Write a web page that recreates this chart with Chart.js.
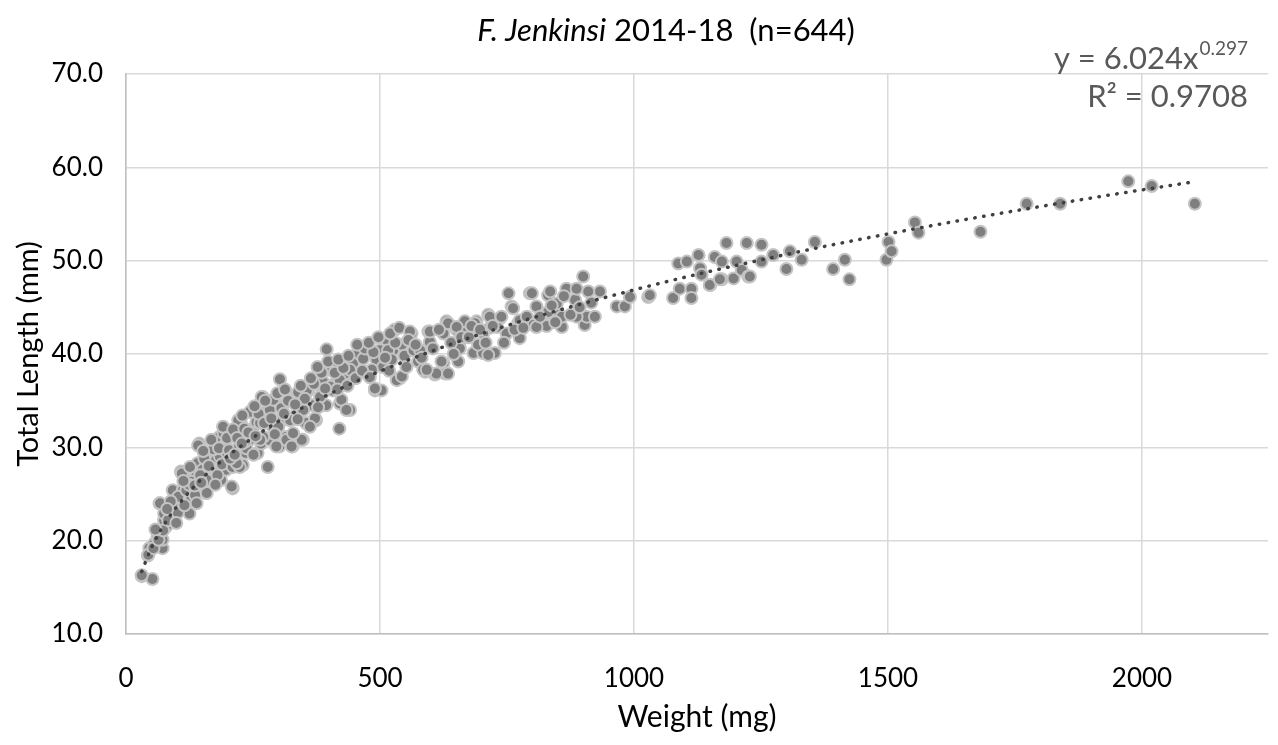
<!DOCTYPE html>
<html>
<head>
<meta charset="utf-8">
<script src="https://cdn.jsdelivr.net/npm/chart.js@4.4.1/dist/chart.umd.min.js"></script>
<style>
  html, body { margin: 0; padding: 0; background: #fff; }
  canvas { display: block; }
</style>
</head>
<body>
<canvas id="fishChart" width="1278" height="745"></canvas>
<script>
// weight (mg), total length (mm), split by weight range
const smallFish = [
  [31,16.2],[52,15.9],[43,18.4],[46,19.2],[56,19.7],[62,20.4],[72,19.2],[72,20.1],[69,21.0],[79,21.5],
  [85,22.2],[75,22.2],[66,24.0],[75,22.9],[92,22.9],[95,23.6],[105,24.3],[98,25.1],[92,25.4],[112,25.4],
  [108,27.4],[121,26.5],[118,24.7],[128,24.4],[125,22.9],[131,25.8],[138,26.9],[141,28.3],[144,30.4],[151,27.6],
  [157,25.1],[161,26.5],[167,29.4],[171,27.6],[177,28.6],[184,31.1],[187,26.5],[194,29.0],[197,27.6],
  [31,16.3],[44,18.5],[54,19.2],[64,20.1],[73,21.1],[67,24.0],[83,22.2],[93,23.6],[103,24.7],[110,27.2],
  [119,25.4],[129,26.3],[142,30.2],[136,24.9],[146,27.0],[159,25.1],[165,27.9],[185,29.0],[192,31.5],[198,29.5],
  [88,24.2],[102,23.0],[115,23.8],[124,26.0],[135,25.9],[148,26.2],[154,28.8],[163,28.0],[172,29.8],[180,27.0],
  [189,28.2],[196,30.3],[58,21.2],[81,23.4],[99,21.9],[113,26.4],[126,27.9],[139,24.0],[152,29.6],[168,30.8],
  [176,26.0],[183,29.9],[191,32.2],[199,31.0]
];
const midFish = [
  [203,29.7],[210,25.6],[210,27.9],[216,31.5],[223,30.1],[226,32.6],[230,28.1],[236,29.4],[243,30.8],[246,33.8],
  [249,32.0],[259,29.4],[262,32.9],[266,30.4],[269,35.4],[276,33.8],[279,27.9],[282,30.8],[289,32.2],[295,34.7],
  [302,30.1],[305,32.9],[308,34.0],[315,31.1],[328,30.1],[331,33.3],[335,35.4],[348,30.8],[354,32.6],[358,36.1],
  [367,34.5],[374,32.9],[387,35.8],[394,34.5],[400,36.5],[407,36.1],[420,32.0],[423,34.7],[303,37.3],[395,40.5],
  [208,25.8],[267,35.4],[244,33.8],[221,32.9],[211,31.9],[224,27.9],[237,29.9],[251,29.2],[257,32.7],[270,31.1],
  [283,34.0],[290,35.1],[300,32.2],[306,34.2],[316,30.8],[323,32.9],[339,35.9],[349,34.0],[359,36.1],[372,33.1],
  [382,35.4],[388,37.0],[401,38.3],[408,36.7],[421,34.7],[431,37.9],[441,34.0],[447,39.0],[461,40.1],[474,37.9],
  [490,36.1],[503,36.1],[493,39.4],[506,38.6],[513,41.5],[526,40.4],[539,37.4],[543,41.0],[218,28.3],[234,30.6],
  [264,30.8],[264,32.6],[296,30.1],[326,30.1],[346,30.8],[329,31.5],[362,32.2],[356,36.1],[402,36.5],[405,38.5],
  [424,35.1],[434,34.0],[421,37.2],[441,38.3],[457,40.1],[467,39.5],[484,38.3],[490,36.3],[500,40.4],[529,42.6],
  [516,40.4],[523,39.4],[533,37.2],[543,37.6],[205,28.8],[214,29.2],[219,31.0],[228,30.4],[233,32.0],[241,31.6],
  [255,31.2],[261,33.6],[272,32.6],[286,33.1],[293,31.4],[311,33.6],[319,35.0],[338,33.0],[344,36.6],[352,35.2],
  [370,36.8],[378,34.3],[385,38.0],[392,36.3],[411,38.0],[416,36.2],[428,38.5],[436,36.6],[452,37.4],[465,38.2],
  [470,40.6],[480,37.5],[487,40.2],[510,39.6],[518,38.2],[530,41.2],[548,39.8],[229,33.4],[253,34.4],[274,35.0],
  [298,35.8],[313,36.2],[333,34.6],[364,37.4],[377,38.6],[398,39.2],[418,39.4],[438,39.8],[455,41.0],[478,41.2],
  [497,41.8],[520,42.2],[538,42.8]
];
const largeFish = [
  [552,38.6],[562,42.2],[566,40.4],[575,39.2],[589,38.1],[595,42.4],[598,41.3],[608,37.8],[625,42.2],[625,39.0],
  [628,37.9],[631,43.5],[651,42.6],[654,39.2],[664,42.4],[667,43.5],[684,40.1],[690,43.5],[703,40.1],[713,44.2],
  [726,40.1],[716,42.8],[736,43.8],[749,42.2],[759,45.1],[772,43.3],[775,41.7],[789,43.6],[808,45.1],[828,44.4],
  [828,43.0],[848,44.7],[559,42.4],[579,40.4],[585,38.3],[611,37.9],[634,37.9],[657,41.3],[592,38.3],[621,39.2],
  [598,42.4],[634,43.3],[651,42.9],[657,40.6],[687,43.3],[693,41.0],[703,42.2],[713,39.9],[716,44.0],[730,42.9],
  [739,44.0],[753,46.5],[762,44.9],[775,43.6],[789,44.0],[795,46.5],[802,43.1],[831,46.3],[831,44.5],[848,45.4],
  [858,42.9],[867,47.0],[884,45.8],[887,47.0],[903,43.1],[907,44.0],[923,44.0],[933,46.7],[966,45.1],[982,45.1],
  [992,46.1],[799,46.5],[835,46.7],[808,42.9],[858,44.0],[900,48.3],[887,44.0],[910,46.7],[556,41.5],[570,41.0],
  [582,39.6],[604,40.6],[616,42.6],[640,41.2],[645,40.0],[660,41.8],[675,41.8],[680,43.0],[697,42.6],[708,41.2],
  [722,43.0],[744,41.2],[765,42.6],[782,42.8],[815,44.0],[838,45.2],[845,43.4],[862,46.2],[875,44.2],[893,45.0],
  [916,45.5]
];
const heavyFish = [
  [1028,46.1],[1077,46.0],[1087,49.7],[1104,49.9],[1090,47.0],[1113,47.0],[1113,46.0],[1127,50.6],[1130,49.2],[1133,48.5],
  [1150,47.4],[1159,50.4],[1173,49.9],[1173,48.0],[1182,51.9],[1196,48.1],[1202,49.9],[1212,49.0],[1222,51.9],[1225,48.3],
  [1251,51.7],[1251,49.9],[1274,50.6],[1300,49.1],[1307,51.0],[1330,50.1],[1356,52.0],[1392,49.1],[1415,50.1],[1424,48.0],
  [1497,50.1],[1501,52.0],[1507,51.0],[1553,54.1],[1560,53.0],[1682,53.1],[1773,56.1],[1839,56.1],[1973,58.5],[2019,58.0],
  [2104,56.1],[1031,46.3],[1149,47.4],[1169,48.0],[1228,48.3]
];

// power trendline y = 6.024x^0.297
const trendWeight = [31, 50, 75, 100, 150, 200, 300, 400, 500, 700, 1000, 1300, 1600, 1900, 2100];
const trendLength = [16.7, 19.25, 21.72, 23.65, 26.68, 29.06, 32.78, 35.70, 38.15, 42.17, 46.87, 50.67, 53.89, 56.71, 58.43];

const xTicks = [0, 500, 1000, 1500, 2000];
const yTicks = [10, 20, 30, 40, 50, 60, 70];

const FONT = 'Lato, "Open Sans", sans-serif';

const allFish = smallFish.concat(midFish, largeFish, heavyFish).map(p => ({x: p[0], y: p[1]}));
const trendPts = trendWeight.map((w, i) => ({x: w, y: trendLength[i]}));

// title with italic species name + equation box, drawn on the canvas
const textPlugin = {
  id: 'textPlugin',
  afterDraw(chart) {
    const ctx = chart.ctx;
    ctx.save();
    ctx.textBaseline = 'middle';
    ctx.fillStyle = '#000';
    let a = 'F. Jenkinsi';
    let b = ' 2014-18  (n=644)';
    ctx.font = 'italic 31px ' + FONT;
    let wa = ctx.measureText(a).width;
    ctx.font = '31px ' + FONT;
    let wb = ctx.measureText(b).width;
    let x0 = 666 - (wa + wb) / 2;
    ctx.textAlign = 'left';
    ctx.font = 'italic 31px ' + FONT;
    ctx.fillText(a, x0, 31);
    ctx.font = '31px ' + FONT;
    ctx.fillText(b, x0 + wa, 31);

    // equation, right aligned
    let right = 1248;
    ctx.fillStyle = '#595959';
    ctx.font = '19px ' + FONT;
    let sup = '0.297';
    let ws = ctx.measureText(sup).width;
    ctx.textAlign = 'right';
    ctx.fillText(sup, right, 49);
    ctx.font = '31px ' + FONT;
    ctx.fillText('y = 6.024x', right - ws - 1, 59);
    ctx.fillText('R\u00B2 = 0.9708', right, 97);
    ctx.restore();
  }
};

new Chart(document.getElementById('fishChart'), {
  type: 'scatter',
  data: {
    datasets: [{
      type: 'line',
      label: 'Power trend',
      data: trendPts,
      order: 0,
      borderColor: '#404040',
      borderWidth: 3.5,
      borderDash: [0.5, 8.5],
      borderCapStyle: 'round',
      pointRadius: 0,
      tension: 0.4,
      cubicInterpolationMode: 'monotone',
      fill: false
    }, {
      label: 'Fish',
      data: allFish,
      order: 1,
      backgroundColor: '#7f7f7f',
      borderColor: '#c4c4c4',
      borderWidth: 2,
      pointRadius: 6,
      pointHoverRadius: 6
    }]
  },
  plugins: [textPlugin],
  options: {
    responsive: false,
    animation: false,
    devicePixelRatio: 1,
    layout: { padding: { top: 74, right: 10, bottom: 0, left: 0 } },
    plugins: {
      legend: { display: false },
      title: { display: false },
      tooltip: { enabled: false }
    },
    scales: {
      x: {
        type: 'linear',
        min: 0,
        max: 2248,
        afterBuildTicks: s => { s.ticks = xTicks.map(v => ({value: v})); },
        afterFit: s => { s.height = 111; },
        grid: { color: '#d9d9d9', lineWidth: 1.5, drawTicks: false },
        border: { display: true, color: '#bfbfbf', width: 1.5 },
        ticks: {
          padding: 29,
          color: '#000',
          font: { family: FONT, size: 26 },
          callback: v => String(v)
        },
        title: {
          display: true,
          text: 'Weight (mg)',
          color: '#000',
          font: { family: FONT, size: 30 },
          padding: { top: 0, bottom: 10 }
        }
      },
      y: {
        type: 'linear',
        min: 10,
        max: 70,
        afterBuildTicks: s => { s.ticks = yTicks.map(v => ({value: v})); },
        afterFit: s => { s.width = 126; },
        grid: { color: '#d9d9d9', lineWidth: 1.5, drawTicks: false },
        border: { display: true, color: '#bfbfbf', width: 1.5 },
        ticks: {
          padding: 23,
          color: '#000',
          font: { family: FONT, size: 26 },
          callback: v => v.toFixed(1)
        },
        title: {
          display: true,
          text: 'Total Length (mm)',
          color: '#000',
          font: { family: FONT, size: 29 },
          padding: { top: 11, bottom: 0 }
        }
      }
    }
  }
});
</script>
</body>
</html>
